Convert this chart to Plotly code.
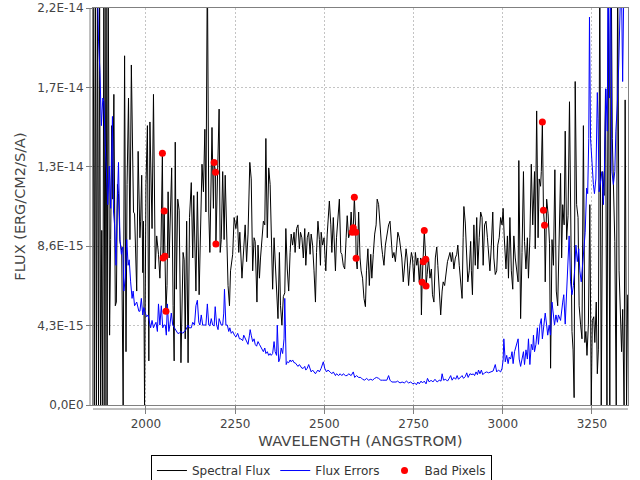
import numpy as np
import plotly.graph_objects as go

# ---- Spectral flux (units of 1e-15 erg/cm2/s/A) ----
flux_wl = [1852, 1855, 1858, 1861, 1864, 1867, 1870, 1873, 1876, 1879, 1882, 1885, 1888, 1891, 1894, 1898,
           1901, 1904, 1907, 1910, 1914, 1917, 1920, 1923, 1927, 1932, 1936, 1940, 1944, 1947, 1951, 1955,
           1959, 1963, 1965, 1968, 1974, 1978, 1983, 1985, 1988, 1991, 1993, 1996, 2000, 2004, 2008, 2011,
           2017, 2021, 2026, 2030, 2035, 2039, 2042, 2046, 2048, 2051, 2053, 2056, 2059, 2062, 2065, 2072,
           2076, 2079, 2082, 2085, 2089, 2093, 2098, 2104, 2107, 2110, 2114, 2118, 2122, 2127, 2131, 2134,
           2140, 2144, 2149, 2153, 2157, 2161, 2165, 2168, 2172, 2176, 2179, 2185, 2189, 2191, 2195, 2196,
           2200, 2205, 2208, 2211, 2215, 2219, 2222, 2226, 2230, 2234, 2237, 2243, 2247, 2252, 2256, 2260,
           2263, 2269, 2274, 2278, 2282, 2286, 2291, 2295, 2299, 2303, 2306, 2311, 2314, 2318, 2321, 2325,
           2329, 2333, 2336, 2340, 2344, 2348, 2351, 2355, 2359, 2362, 2366, 2370, 2374, 2377, 2381, 2385,
           2389, 2392, 2396, 2400, 2404, 2407, 2411, 2415, 2418, 2422, 2426, 2430, 2433, 2437, 2441, 2445,
           2448, 2452, 2456, 2460, 2463, 2467, 2471, 2475, 2478, 2482, 2486, 2489, 2491, 2495, 2499, 2504,
           2508, 2514, 2518, 2521, 2525, 2531, 2534, 2538, 2542, 2546, 2549, 2553, 2557, 2561, 2564, 2568,
           2572, 2575, 2578, 2581, 2584, 2588, 2589, 2592, 2596, 2600, 2603, 2607, 2611, 2615, 2618, 2622,
           2626, 2630, 2633, 2637, 2641, 2645, 2648, 2652, 2656, 2660, 2663, 2667, 2671, 2675, 2680, 2684,
           2688, 2691, 2695, 2699, 2703, 2706, 2710, 2714, 2717, 2721, 2725, 2729, 2732, 2736, 2740, 2744,
           2747, 2751, 2755, 2759, 2762, 2766, 2770, 2772, 2774, 2777, 2780, 2784, 2785, 2788, 2792, 2796,
           2800, 2803, 2807, 2811, 2815, 2818, 2822, 2826, 2830, 2833, 2837, 2841, 2845, 2848, 2852, 2856,
           2859, 2863, 2867, 2871, 2874, 2878, 2882, 2886, 2889, 2891, 2895, 2899, 2902, 2906, 2910, 2912,
           2915, 2919, 2923, 2927, 2930, 2934, 2938, 2942, 2945, 2949, 2953, 2957, 2960, 2964, 2968, 2972,
           2975, 2979, 2983, 2986, 2990, 2994, 2998, 3001, 3004, 3009, 3013, 3016, 3020, 3024, 3028, 3031,
           3035, 3039, 3043, 3045, 3047, 3050, 3054, 3058, 3061, 3065, 3069, 3072, 3076, 3080, 3084, 3086,
           3089, 3091, 3095, 3099, 3102, 3106, 3108, 3111, 3114, 3117, 3119, 3123, 3127, 3131, 3134, 3138,
           3142, 3146, 3150, 3154, 3158, 3162, 3165, 3168, 3172, 3175, 3179, 3183, 3187, 3190, 3194, 3197,
           3200, 3203, 3207, 3211, 3214, 3218, 3222, 3226, 3230, 3233, 3236, 3240, 3244, 3248, 3251, 3255,
           3258, 3262, 3265, 3268, 3272, 3276, 3280, 3284, 3288, 3292, 3296, 3300, 3304, 3307, 3311, 3314,
           3318, 3322, 3326, 3330, 3333, 3336, 3340, 3343, 3347, 3350]
flux_val = [24, 0, 24, 0, 24, 0, 22, 0, 9.5, 0, 24, 0, 24, 0, 24, 3.8,
            9.0, 15.2, 11.2, 16.9, 5.4, 5.6, 12.0, 11.5, 8.9, 8.4, 0, 19.0, 2.9, 12.0, 16.7, 9.0,
            18.5, 14.3, 10.5, 10.4, 6.2, 13.8, 9.1, 10.0, 12.5, 7.2, 10.0, 0, 12.0, 15.2, 2.4, 15.4,
            9.6, 16.9, 7.4, 9.2, 8.2, 6.9, 8.7, 13.7, 8.0, 10.55, 8.1, 5.1, 6.5, 11.6, 8.0, 12.9,
            5.4, 2.4, 14.3, 6.3, 11.2, 10.6, 2.3, 8.3, 7.9, 3.6, 10.0, 2.3, 10.2, 12.1, 8.0, 11.4,
            6.2, 11.6, 6.0, 10.7, 13.1, 11.6, 15.0, 10.5, 24, 10.5, 8.3, 15.1, 10.7, 13.2, 12.66, 8.76,
            11.5, 16.1, 8.3, 9.0, 12.7, 9.0, 12.5, 9.0, 6.5, 5.4, 7.3, 8.2, 10.2, 9.6, 10.3, 8.3,
            9.4, 6.9, 8.3, 9.8, 7.8, 9.3, 13.2, 12.3, 7.3, 9.1, 8.9, 5.6, 8.7, 6.9, 8.0, 9.3,
            10.0, 9.8, 14.5, 9.1, 12.9, 12.0, 9.4, 6.3, 9.1, 7.8, 6.7, 4.7, 8.3, 5.4, 4.35, 5.9,
            6.1, 9.6, 7.4, 6.2, 8.3, 9.3, 8.7, 9.4, 8.3, 9.6, 9.8, 8.5, 9.4, 9.1, 8.0, 9.6,
            7.6, 9.1, 9.4, 8.2, 9.3, 8.7, 7.3, 5.6, 8.3, 10.0, 9.0, 7.6, 9.4, 8.7, 9.1, 7.3,
            9.3, 11.1, 9.8, 8.3, 10.2, 7.3, 9.1, 10.0, 11.2, 8.3, 8.2, 7.6, 7.4, 9.1, 10.3, 9.1,
            9.4, 10.5, 9.4, 9.65, 11.3, 9.4, 7.98, 7.4, 10.5, 8.0, 7.3, 6.9, 5.8, 5.35, 7.3, 8.5,
            6.5, 8.2, 6.9, 8.2, 9.3, 9.8, 11.2, 10.9, 9.6, 8.7, 8.2, 7.6, 8.7, 9.3, 9.8, 10.0,
            9.1, 8.0, 8.3, 7.8, 8.7, 9.4, 9.1, 8.3, 8.0, 6.7, 7.8, 8.5, 8.0, 6.5, 7.6, 8.3,
            8.0, 6.7, 8.3, 7.6, 8.0, 6.7, 8.0, 4.9, 6.68, 7.8, 9.5, 7.93, 6.47, 7.1, 8.0, 6.9,
            7.4, 6.0, 5.6, 8.0, 8.6, 7.6, 6.2, 4.9, 6.2, 6.7, 6.5, 7.3, 7.8, 8.0, 8.3, 7.8,
            8.3, 7.4, 8.0, 8.2, 8.7, 7.6, 6.7, 5.8, 9.1, 10.8, 9.9, 7.6, 6.7, 7.3, 8.9, 7.3,
            6.0, 9.8, 7.6, 10.2, 7.4, 9.1, 10.5, 10.2, 7.6, 9.8, 10.0, 9.1, 8.3, 7.3, 8.7, 10.5,
            8.0, 7.1, 7.3, 8.7, 9.1, 10.2, 9.8, 10.7, 9.2, 7.4, 9.2, 6.9, 10.2, 7.3, 6.3, 9.2,
            8.0, 7.3, 6.7, 13.3, 9.1, 4.7, 8.3, 12.7, 8.9, 7.4, 9.1, 6.9, 9.1, 13.1, 9.8, 11.2,
            12.7, 8.5, 16.0, 9.1, 12.3, 11.9, 12.7, 15.4, 10.6, 9.78, 6.7, 11.2, 10.4, 8.8, 2.0, 9.0,
            7.6, 12.8, 6.2, 5.4, 9.5, 12.6, 8.0, 10.9, 9.8, 14.9, 9.0, 10.3, 16.5, 10.5, 4.0, 3.0,
            0.4, 17.6, 10.9, 10.2, 5.4, 4.4, 3.6, 15.2, 3.4, 4.0, 2.7, 4.4, 10.9, 0, 4.6, 4.8,
            3.4, 5.6, 1.7, 3.0, 24, 0, 12.7, 11.4, 17.2, 0, 24, 0, 24, 14.5, 11.4, 8.9,
            0, 24, 7.3, 4.9, 2.9, 5.2, 0, 16.6, 0, 6.0]

# ---- Flux errors (units of 1e-15) ----
err_wl = [1852, 1858, 1864, 1867, 1871, 1875, 1879, 1882, 1886, 1890, 1893, 1897, 1901, 1906, 1909, 1912,
          1916, 1919, 1923, 1927, 1931, 1935, 1938, 1942, 1946, 1950, 1953, 1957, 1961, 1964, 1968, 1974,
          1980, 1983, 1987, 1991, 1994, 1998, 2002, 2006, 2009, 2013, 2017, 2021, 2024, 2028, 2032, 2035,
          2039, 2043, 2047, 2050, 2054, 2057, 2060, 2064, 2067, 2071, 2075, 2079, 2084, 2089, 2093, 2098,
          2103, 2107, 2112, 2118, 2121, 2127, 2131, 2136, 2140, 2144, 2148, 2151, 2155, 2159, 2163, 2168,
          2172, 2176, 2179, 2183, 2187, 2191, 2194, 2198, 2202, 2205, 2211, 2215, 2218, 2220, 2224, 2228,
          2232, 2235, 2239, 2243, 2248, 2252, 2257, 2262, 2266, 2271, 2274, 2278, 2282, 2286, 2290, 2292,
          2295, 2299, 2303, 2306, 2310, 2314, 2318, 2321, 2325, 2329, 2333, 2336, 2340, 2344, 2348, 2351,
          2355, 2359, 2362, 2366, 2368, 2372, 2375, 2379, 2383, 2387, 2389, 2391, 2393, 2396, 2400, 2404,
          2407, 2411, 2415, 2418, 2422, 2426, 2430, 2433, 2437, 2441, 2445, 2448, 2452, 2456, 2460, 2463,
          2467, 2471, 2475, 2478, 2482, 2486, 2491, 2497, 2501, 2506, 2510, 2516, 2521, 2525, 2531, 2534,
          2540, 2544, 2549, 2553, 2559, 2564, 2568, 2575, 2581, 2585, 2590, 2596, 2602, 2607, 2613, 2618,
          2624, 2630, 2635, 2641, 2646, 2652, 2658, 2663, 2669, 2675, 2680, 2684, 2689, 2695, 2701, 2705,
          2712, 2718, 2724, 2730, 2736, 2742, 2748, 2753, 2758, 2762, 2766, 2771, 2775, 2780, 2785, 2789,
          2794, 2799, 2804, 2810, 2816, 2822, 2827, 2830, 2834, 2840, 2845, 2850, 2854, 2858, 2863, 2868,
          2872, 2876, 2881, 2886, 2890, 2895, 2899, 2903, 2908, 2914, 2917, 2921, 2925, 2929, 2932, 2936,
          2940, 2944, 2949, 2955, 2960, 2966, 2973, 2979, 2983, 2988, 2994, 2998, 3001, 3003, 3007, 3011,
          3015, 3018, 3022, 3026, 3029, 3033, 3039, 3043, 3046, 3050, 3054, 3058, 3061, 3065, 3069, 3072,
          3076, 3080, 3084, 3086, 3089, 3093, 3097, 3100, 3104, 3108, 3111, 3115, 3119, 3123, 3126, 3130,
          3134, 3138, 3142, 3145, 3149, 3153, 3156, 3162, 3168, 3171, 3175, 3179, 3183, 3186, 3190, 3194,
          3198, 3201, 3205, 3209, 3213, 3216, 3220, 3224, 3228, 3231, 3235, 3238, 3241, 3243, 3246, 3250,
          3254, 3257, 3261, 3265, 3267, 3270, 3274, 3278, 3282, 3285, 3289, 3293, 3295, 3299, 3302, 3306,
          3310, 3314, 3317, 3321, 3325, 3328, 3332, 3336, 3340, 3345, 3350]
err_val = [26, 25, 23, 19.8, 18.1, 15.2, 16.7, 16.5, 14.1, 12.5, 10.9, 13.0, 10.7, 15.7, 10.5, 9.8,
           7.6, 10.7, 13.2, 9.0, 8.2, 8.6, 6.2, 6.9, 9.0, 7.6, 7.9, 6.7, 5.8, 6.2, 5.4, 5.6,
           5.1, 5.1, 5.8, 4.9, 5.3, 5.0, 4.8, 4.9, 4.5, 4.2, 4.6, 4.2, 4.35, 4.5, 4.0, 5.5,
           4.35, 5.4, 4.2, 4.35, 4.35, 3.8, 5.5, 4.0, 4.35, 5.0, 4.35, 4.2, 4.1, 3.9, 3.9, 4.0,
           3.9, 4.0, 4.1, 4.35, 4.2, 4.2, 4.5, 4.35, 5.4, 5.7, 4.5, 4.35, 4.9, 4.35, 4.35, 4.35,
           5.5, 4.35, 4.3, 4.7, 4.35, 4.3, 5.35, 4.35, 4.1, 4.7, 4.35, 4.35, 5.0, 6.3, 4.35, 4.35,
           4.0, 4.2, 3.9, 4.0, 3.8, 3.7, 3.9, 3.6, 3.6, 3.5, 3.8, 3.6, 3.45, 3.3, 3.8, 4.1,
           3.8, 3.45, 3.6, 3.3, 3.2, 3.45, 3.3, 3.2, 3.1, 2.9, 3.1, 2.8, 2.9, 2.7, 2.8, 2.7,
           2.8, 3.45, 2.9, 2.7, 4.35, 2.35, 2.5, 3.1, 2.8, 3.6, 5.8, 2.7, 2.2, 2.35, 2.3, 2.45,
           2.35, 2.45, 2.3, 2.3, 2.2, 2.1, 2.2, 2.1, 2.0, 2.0, 2.1, 1.9, 2.0, 2.2, 1.9, 1.8,
           1.9, 1.8, 1.7, 1.8, 1.9, 1.8, 2.0, 2.35, 2.0, 1.8, 1.9, 1.8, 1.7, 1.8, 1.6, 1.7,
           1.6, 1.7, 1.6, 1.7, 1.6, 1.6, 1.7, 1.6, 1.8, 1.5, 1.6, 1.5, 1.5, 1.4, 1.35, 1.45,
           1.35, 1.4, 1.35, 1.45, 1.5, 1.45, 1.35, 1.35, 1.35, 1.35, 1.6, 1.35, 1.25, 1.25, 1.25, 1.3,
           1.2, 1.25, 1.2, 1.3, 1.2, 1.25, 1.15, 1.2, 1.1, 1.25, 1.15, 1.3, 1.2, 1.3, 1.15, 1.45,
           1.25, 1.35, 1.25, 1.4, 1.25, 1.35, 1.3, 1.7, 1.35, 1.4, 1.3, 1.45, 1.6, 1.35, 1.5, 1.4,
           1.6, 1.4, 1.5, 1.6, 1.45, 1.55, 1.75, 1.5, 1.7, 1.65, 1.7, 1.6, 1.8, 1.65, 1.9, 1.7,
           1.9, 1.65, 1.75, 1.8, 1.75, 1.8, 1.85, 2.2, 1.8, 1.9, 1.8, 2.0, 2.45, 3.6, 2.35, 2.7,
           2.25, 2.6, 2.5, 2.9, 2.25, 2.9, 3.3, 3.6, 2.5, 2.1, 2.5, 2.9, 2.2, 3.0, 2.5, 3.6,
           2.2, 3.3, 3.0, 3.8, 2.9, 3.3, 4.2, 3.3, 4.35, 4.7, 3.6, 4.35, 5.0, 4.35, 3.8, 4.35,
           3.8, 5.6, 4.9, 4.35, 4.9, 4.5, 4.9, 4.6, 5.6, 6.0, 4.4, 6.3, 8.0, 9.2, 6.7, 6.0,
           6.5, 7.2, 8.7, 7.8, 8.5, 7.3, 6.7, 7.6, 8.7, 9.4, 11.8, 11.5, 14.5, 21.1, 14.5, 12.9,
           12.0, 11.5, 12.3, 17.0, 15.6, 11.6, 12.3, 12.7, 10.9, 12.7, 17.2, 14.9, 24, 16.7, 24, 12.7,
           12.0, 12.7, 14.9, 16.3, 18.5, 24, 24, 17.6, 24, 24, 24]

# ---- Bad pixels (units of 1e-15) ----
bad_wl = [2046, 2048, 2051, 2053, 2056, 2191, 2195, 2196, 2578, 2581, 2584, 2588, 2589,
          2774, 2777, 2780, 2784, 2785, 3111, 3114, 3117]
bad_val = [13.7, 8.0, 10.55, 8.1, 5.1, 13.2, 12.66, 8.76, 9.4, 9.65, 11.3, 9.4, 7.98,
           6.68, 7.8, 9.5, 7.93, 6.47, 15.4, 10.6, 9.78]

x_ticks = [2000, 2250, 2500, 2750, 3000, 3250]
y_ticks = [0, 4.32e-15, 8.64e-15, 1.296e-14, 1.728e-14, 2.16e-14]
y_tick_text = ["0,0E0", "4,3E-15", "8,6E-15", "1,3E-14", "1,7E-14", "2,2E-14"]

UNIT = 1e-15
FONT = "DejaVu Sans"
GRAY = "#444444"

fig = go.Figure()
fig.add_trace(go.Scatter(x=flux_wl, y=np.array(flux_val) * UNIT, mode="lines",
                         name="Spectral Flux", line=dict(color="#000000", width=1)))
fig.add_trace(go.Scatter(x=err_wl, y=np.array(err_val) * UNIT, mode="lines",
                         name="Flux Errors", line=dict(color="#0000ff", width=1)))
fig.add_trace(go.Scatter(x=bad_wl, y=np.array(bad_val) * UNIT, mode="markers",
                         name="Bad Pixels", marker=dict(color="#ff0000", size=7)))

fig.update_layout(
    width=640, height=480,
    margin=dict(l=93, r=12, t=8, b=75, autoexpand=False),
    paper_bgcolor="white", plot_bgcolor="white",
    font=dict(family=FONT, size=12, color=GRAY),
    showlegend=True,
    legend=dict(orientation="h", x=0.427, xanchor="center", y=-0.126, yanchor="top",
                bordercolor="#000000", borderwidth=1, bgcolor="white",
                font=dict(family=FONT, size=12, color="#333333"),
                itemwidth=30, tracegroupgap=0),
)
fig.update_xaxes(range=[1851.5, 3351], tickvals=x_ticks, ticks="outside", ticklen=8,
                 tickcolor="#808080", showline=True, linecolor="#808080", mirror=True,
                 showgrid=True, gridcolor="#c4c4c4", griddash="2px,2px", gridwidth=1,
                 zeroline=False, automargin=False,
                 tickfont=dict(family=FONT, size=12, color=GRAY),
                 title=dict(text="WAVELENGTH (ANGSTROM)", font=dict(family=FONT, size=14.8, color=GRAY),
                            standoff=5))
fig.update_yaxes(range=[0, 2.16e-14], tickvals=y_ticks, ticktext=y_tick_text, ticks="outside",
                 ticklen=6, tickcolor="#808080", showline=True, linecolor="#808080", mirror=True,
                 showgrid=True, gridcolor="#c4c4c4", griddash="2px,2px", gridwidth=1,
                 zeroline=False, automargin=False,
                 tickfont=dict(family=FONT, size=12, color=GRAY),
                 title=dict(text="FLUX (ERG/CM2/S/A)", font=dict(family=FONT, size=14.5, color=GRAY),
                            standoff=8))

# offset axis lines (drawn slightly outside the plot frame)
fig.add_shape(type="line", xref="paper", yref="paper", x0=0, x1=1,
              ysizemode="pixel", yanchor=0, y0=-4, y1=-4, line=dict(color="#808080", width=1))
fig.add_shape(type="line", xref="paper", yref="paper", y0=0, y1=1,
              xsizemode="pixel", xanchor=0, x0=-3, x1=-3, line=dict(color="#808080", width=1))

fig.write_html("out.html", config={"displayModeBar": False},
               post_script="document.body.style.margin='0';")
